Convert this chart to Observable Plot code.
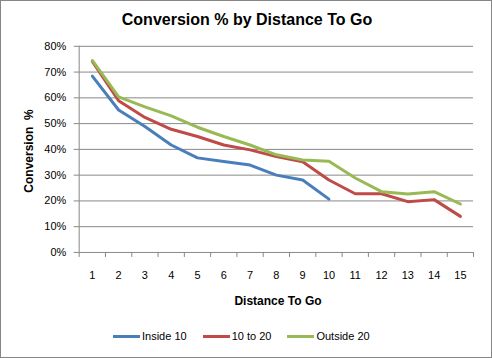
<!DOCTYPE html>
<html><head><meta charset="utf-8">
<script src="https://cdn.jsdelivr.net/npm/d3@7"></script>
<script src="https://cdn.jsdelivr.net/npm/@observablehq/plot@0.6"></script>
<style>
html,body{margin:0;padding:0;background:#fff;}
#wrap{position:relative;width:492px;height:358px;box-sizing:border-box;border:1px solid #868686;font-family:"Liberation Sans",Arial,sans-serif;overflow:hidden;}
#wrap svg{position:absolute;left:-1px;top:-1px;}
.t{position:absolute;white-space:nowrap;color:#000;}
#title{left:0;width:492px;top:10px;text-align:center;font-weight:bold;font-size:16px;}
#ytitle{left:28px;top:150px;transform:translate(-50%,-50%) rotate(-90deg);font-weight:bold;font-size:12px;}
#xtitle{left:277px;top:300px;transform:translate(-50%,-50%);font-weight:bold;font-size:12px;}
#legend{position:absolute;top:329px;left:112px;font-size:11px;display:flex;align-items:center;}
.li{display:flex;align-items:center;margin-right:16px;}
.sw{width:27px;height:3px;margin-right:2px;}
</style></head>
<body>
<div id="wrap">
<div class="t" id="title">Conversion % by Distance To Go</div>
<div class="t" id="ytitle">Conversion&nbsp; %</div>
<div class="t" id="xtitle">Distance To Go</div>
<div id="legend"></div>
</div>
<script>
const distances = [1,2,3,4,5,6,7,8,9,10,11,12,13,14,15];
const seriesNames = ["Inside 10","10 to 20","Outside 20"];
const inside10 = [0.684,0.553,0.489,0.417,0.367,0.353,0.339,0.300,0.281,0.207];
const tenTo20 = [0.741,0.589,0.524,0.478,0.450,0.417,0.398,0.372,0.352,0.281,0.228,0.228,0.197,0.205,0.140];
const outside20 = [0.745,0.604,0.565,0.530,0.486,0.450,0.417,0.379,0.359,0.354,0.289,0.236,0.227,0.236,0.188];
const colors = ["#4A7EBB","#BE4B48","#98B954"];
const yTicks = [0,0.1,0.2,0.3,0.4,0.5,0.6,0.7,0.8];

const rows = [];
[inside10,tenTo20,outside20].forEach((vals,i)=>vals.forEach((v,j)=>rows.push({series:seriesNames[i],x:distances[j],y:v})));
const bounds = d3.range(0.5,15.6,1);

const chart = Plot.plot({
  width:492,height:358,
  marginTop:46,marginBottom:105,marginLeft:79,marginRight:17,
  style:{fontFamily:"Liberation Sans, Arial, sans-serif",fontSize:"11px",background:"transparent",color:"#000"},
  x:{type:"linear",domain:[0.5,15.5]},
  y:{domain:[0,0.8]},
  color:{domain:seriesNames,range:colors},
  marks:[
    Plot.ruleY(yTicks,{stroke:"#878787",strokeWidth:1}),
    Plot.ruleX([0.5],{stroke:"#878787"}),
    Plot.axisY({ticks:yTicks,tickFormat:d3.format(".0%"),tickSize:5,tickPadding:8,stroke:"#878787",label:null,fill:"#000"}),
    Plot.axisX({ticks:bounds,tickFormat:()=>"",tickSize:5,stroke:"#878787",label:null}),
    Plot.axisX({ticks:distances,tickFormat:d=>d,tickSize:0,tickPadding:19,label:null,fill:"#000"}),
    Plot.line(rows,{x:"x",y:"y",z:"series",stroke:"series",strokeWidth:3,curve:"linear"})
  ]
});
document.getElementById("wrap").appendChild(chart);

const lg = document.getElementById("legend");
seriesNames.forEach((n,i)=>{
  const d=document.createElement("div");d.className="li";
  d.innerHTML=`<div class="sw" style="background:${colors[i]}"></div><span>${n}</span>`;
  lg.appendChild(d);
});
</script>
</body></html>
